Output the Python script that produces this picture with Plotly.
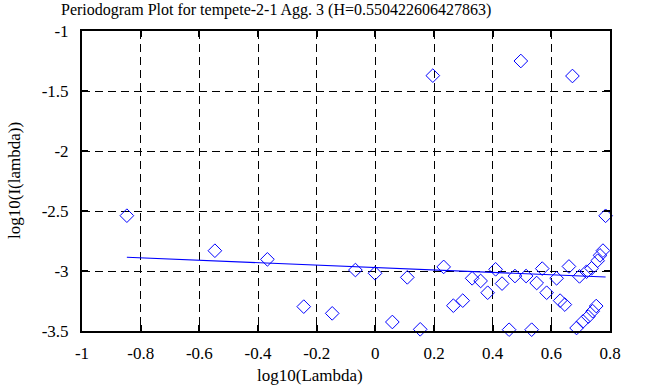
import plotly.graph_objects as go

# Data
log_lambda = [-0.847, -0.547, -0.368, -0.244, -0.147, -0.068, -0.001, 0.058, 0.109, 0.153,
              0.196, 0.233, 0.266, 0.298, 0.330, 0.359, 0.383, 0.410, 0.432, 0.456,
              0.476, 0.496, 0.514, 0.533, 0.550, 0.569, 0.584, 0.618, 0.630, 0.646,
              0.660, 0.672, 0.686, 0.696, 0.708, 0.720, 0.726, 0.737, 0.741, 0.753,
              0.758, 0.766, 0.776, 0.785]
log_I = [-2.539, -2.831, -2.903, -3.297, -3.353, -2.992, -3.019, -3.425, -3.053, -3.486,
         -1.372, -2.966, -3.289, -3.247, -3.061, -3.083, -3.181, -2.986, -3.105, -3.489,
         -3.042, -1.250, -3.042, -3.489, -3.100, -2.980, -3.181, -3.061, -3.247, -3.280,
         -2.962, -1.375, -3.475, -3.045, -3.420, -3.006, -3.380, -2.978, -3.335, -3.292,
         -2.914, -2.870, -2.830, -2.540]

H = 0.550422606427863
fit_slope = 1 - 2 * H
fit_intercept = -2.971

x_ticks = [-1, -0.8, -0.6, -0.4, -0.2, 0, 0.2, 0.4, 0.6, 0.8]
x_tick_text = ["-1", "-0.8", "-0.6", "-0.4", "-0.2", "0", "0.2", "0.4", "0.6", "0.8"]
y_ticks = [-1, -1.5, -2, -2.5, -3, -3.5]
y_tick_text = ["-1", "-1.5", "-2", "-2.5", "-3", "-3.5"]

title_text = "Periodogram Plot for tempete-2-1 Agg. 3 (H=0.550422606427863)"

FONT = "Liberation Serif, Times New Roman, DejaVu Serif, serif"
BLUE = "#0000ff"

fit_x = [min(log_lambda), max(log_lambda)]
fit_y = [fit_intercept + fit_slope * v for v in fit_x]

fig = go.Figure()
fig.add_trace(go.Scatter(
    x=log_lambda, y=log_I, mode="markers",
    marker=dict(symbol="diamond-open", size=10.5, color=BLUE, line=dict(width=1, color=BLUE)),
    showlegend=False, cliponaxis=False,
))
fig.add_trace(go.Scatter(
    x=fit_x, y=fit_y, mode="lines",
    line=dict(color=BLUE, width=1.2),
    showlegend=False,
))

axis_common = dict(
    showline=True, linecolor="black", linewidth=2, mirror="ticks",
    ticks="inside", ticklen=6, tickwidth=1.5, tickcolor="black",
    showgrid=True, gridcolor="black", gridwidth=1, griddash="8px,5px",
    zeroline=False, automargin=False,
    tickfont=dict(family=FONT, size=17, color="black"),
)

L, R, T, B = 82, 48, 31, 56
W, HGT = 658, 387
plot_w = W - L - R
plot_h = HGT - T - B

def px_to_paper_x(px):
    return (px - L) / plot_w

def px_to_paper_y(py):
    return (HGT - B - py) / plot_h

fig.update_layout(
    width=W, height=HGT,
    margin=dict(l=L, r=R, t=T, b=B, pad=0),
    paper_bgcolor="white", plot_bgcolor="white",
    hovermode=False,
    xaxis=dict(range=[-1, 0.8], tickvals=x_ticks, ticktext=x_tick_text,
               ticklabelstandoff=6, **axis_common),
    yaxis=dict(range=[-3.5, -1], tickvals=y_ticks, ticktext=y_tick_text,
               ticklabelstandoff=8, **axis_common),
    annotations=[
        dict(text=title_text, x=px_to_paper_x(276), y=px_to_paper_y(10),
             xref="paper", yref="paper",
             showarrow=False, font=dict(family=FONT, size=16, color="black"),
             xanchor="center", yanchor="middle"),
        dict(text="log10(Lambda)", x=px_to_paper_x(310), y=px_to_paper_y(375),
             xref="paper", yref="paper",
             showarrow=False, font=dict(family=FONT, size=17, color="black"),
             xanchor="center", yanchor="middle"),
        dict(text="log10(I(lambda))", x=px_to_paper_x(14), y=px_to_paper_y(181),
             xref="paper", yref="paper",
             showarrow=False, textangle=-90, font=dict(family=FONT, size=17, color="black"),
             xanchor="center", yanchor="middle"),
    ],
)

fig.write_html(
    "out.html",
    config={"displayModeBar": False},
    post_script="document.body.style.margin='0';document.body.style.overflow='hidden';",
)
